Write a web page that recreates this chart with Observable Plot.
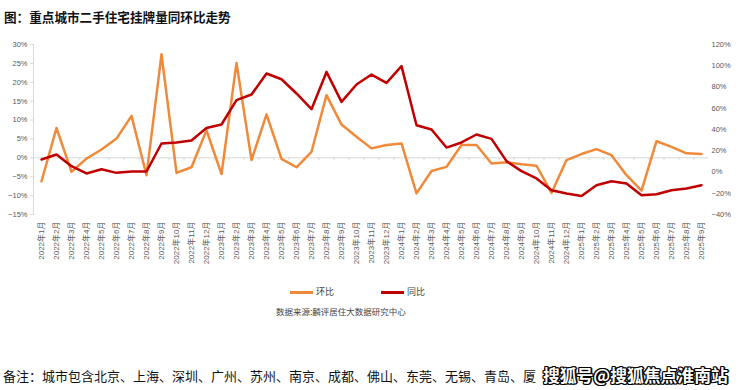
<!DOCTYPE html>
<html>
<head>
<meta charset="utf-8">
<script src="https://cdn.jsdelivr.net/npm/d3@7"></script>
<script src="https://cdn.jsdelivr.net/npm/@observablehq/plot@0.6"></script>
<style>
  html, body { margin: 0; padding: 0; background: #fff; }
  #wrap { position: relative; width: 740px; height: 390px; overflow: hidden; font-family: "Noto Sans CJK SC", "Liberation Sans", sans-serif; }
  #chart { position: absolute; left: 0; top: 0; }
  .abs { position: absolute; white-space: nowrap; }
  #title { left: 4px; top: 7px; font-size: 12.6px; font-weight: bold; color: #111; }
  .lg-line { position: absolute; height: 2.5px; width: 23px; }
  .lg-text { position: absolute; font-size: 9px; color: #444; }
  #source { left: 276px; top: 305px; font-size: 8.5px; color: #444; }
  #note { left: 3px; top: 366px; font-size: 13px; color: #111; }
  #wm { left: 543px; top: 363px; font-size: 16.8px; font-weight: bold; color: #fff;
        text-shadow: -1px -1px 0 #000, 1px -1px 0 #000, -1px 1px 0 #000, 1px 1px 0 #000, 0 1px 0 #000, 0 -1px 0 #000, 1px 0 0 #000, -1px 0 0 #000, 2px 0 0 #555; }
</style>
</head>
<body>
<div id="wrap">
  <div id="chart"></div>
  <div id="title" class="abs"></div>
  <div id="legend"></div>
  <div id="source" class="abs"></div>
  <div id="note" class="abs"></div>
  <div id="wm" class="abs"></div>
</div>
<script>
const titleText = "图：重点城市二手住宅挂牌量同环比走势";
const sourceText = "数据来源:麟评居住大数据研究中心";
const noteText = "备注：城市包含北京、上海、深圳、广州、苏州、南京、成都、佛山、东莞、无锡、青岛、厦";
const watermarkText = "搜狐号@搜狐焦点淮南站";
const seriesNames = ["环比", "同比"];
const seriesColors = ["#F08A3A", "#C00000"];

const months = [
  "2022年1月","2022年2月","2022年3月","2022年4月","2022年5月","2022年6月","2022年7月","2022年8月","2022年9月","2022年10月","2022年11月","2022年12月",
  "2023年1月","2023年2月","2023年3月","2023年4月","2023年5月","2023年6月","2023年7月","2023年8月","2023年9月","2023年10月","2023年11月","2023年12月",
  "2024年1月","2024年2月","2024年3月","2024年4月","2024年5月","2024年6月","2024年7月","2024年8月","2024年9月","2024年10月","2024年11月","2024年12月",
  "2025年1月","2025年2月","2025年3月","2025年4月","2025年5月","2025年6月","2025年7月","2025年8月","2025年9月"
];
// 环比 (left axis, %)
const huanbi = [
  -6.2, 7.9, -3.7, -0.2, 2.2, 5.1, 11.1, -4.6, 27.4, -4.0, -2.5, 7.3,
  -4.3, 25.1, -0.6, 11.5, -0.3, -2.5, 1.6, 16.6, 8.8, 5.6, 2.5, 3.4,
  3.8, -9.4, -3.5, -2.4, 3.4, 3.4, -1.5, -1.2, -1.7, -2.1, -9.3, -0.6,
  1.0, 2.3, 0.7, -4.6, -8.7, 4.4, 2.9, 1.2, 1.0
];
// 同比 (right axis, %)
const tongbi = [
  11.8, 16.5, 5.5, -1.4, 2.6, -0.8, 0.5, 0.5, 26.8, 27.8, 29.6, 41.5,
  44.7, 67.6, 72.9, 92.7, 87.3, 73.9, 59.1, 94.2, 66.0, 82.3, 91.7, 83.9,
  99.6, 44.0, 40.0, 23.0, 27.8, 35.3, 31.2, 10.2, 0.8, -6.1, -17.1, -20.3,
  -22.5, -12.4, -8.7, -10.8, -21.8, -20.9, -17.1, -15.5, -12.4
];
const leftTicks = [-15, -10, -5, 0, 5, 10, 15, 20, 25, 30];
const rightTicks = [-40, -20, 0, 20, 40, 60, 80, 100, 120];

const leftDomain = [-15, 30];
const rightDomain = [-40, 120];
const toLeft = r => leftDomain[0] + (r - rightDomain[0]) * (leftDomain[1] - leftDomain[0]) / (rightDomain[1] - rightDomain[0]);
const toRight = l => rightDomain[0] + (l - leftDomain[0]) * (rightDomain[1] - rightDomain[0]) / (leftDomain[1] - leftDomain[0]);
const pct = v => (v < 0 ? "−" : "") + Math.abs(Math.round(v)) + "%";

const data = months.map((m, i) => ({ m, hb: huanbi[i], tb: tongbi[i] }));

const plot = Plot.plot({
  width: 740,
  height: 390,
  marginTop: 44,
  marginBottom: 176,
  marginLeft: 33,
  marginRight: 32,
  x: { type: "point", domain: months, padding: 0.5 },
  y: { domain: leftDomain },
  style: { fontFamily: "'Liberation Sans', 'Noto Sans CJK SC', sans-serif", fontSize: "7.5px", color: "#595959", background: "transparent" },
  marks: [
    Plot.ruleY([0], { stroke: "#d9d9d9", strokeWidth: 1 }),
    Plot.ruleX(months.slice(0, -1), { x: d => d, dx: 7.5, y1: 0, y2: -0.8, stroke: "#d9d9d9" }),
    Plot.frame({ anchor: "left", stroke: "#d9d9d9" }),
    Plot.axisY(leftTicks, { anchor: "left", tickSize: 3, tickPadding: 3, stroke: "#d9d9d9", tickFormat: pct, label: null, fill: "#595959" }),
    Plot.axisY(rightTicks.map(toLeft), { anchor: "right", tickSize: 0, tickPadding: 3, tickFormat: d => pct(toRight(d)), label: null, fill: "#595959" }),
    Plot.axisX({ anchor: "bottom", tickRotate: -90, tickSize: 0, tickPadding: 7, label: null, fontSize: 8, fill: "#595959" }),
    Plot.lineY(data, { x: "m", y: "hb", stroke: seriesColors[0], strokeWidth: 2.5 }),
    Plot.lineY(data, { x: "m", y: d => toLeft(d.tb), stroke: seriesColors[1], strokeWidth: 2.5 })
  ]
});
document.getElementById("chart").appendChild(plot);

document.getElementById("title").textContent = titleText;
document.getElementById("source").textContent = sourceText;
document.getElementById("note").textContent = noteText;
document.getElementById("wm").textContent = watermarkText;

const legend = document.getElementById("legend");
const legendPos = [290, 381];
seriesNames.forEach((name, i) => {
  const ln = document.createElement("div");
  ln.className = "lg-line";
  ln.style.left = legendPos[i] + "px";
  ln.style.top = "291px";
  ln.style.background = seriesColors[i];
  legend.appendChild(ln);
  const tx = document.createElement("div");
  tx.className = "lg-text";
  tx.style.left = (legendPos[i] + 26) + "px";
  tx.style.top = "285px";
  tx.textContent = name;
  legend.appendChild(tx);
});
</script>
</body>
</html>
